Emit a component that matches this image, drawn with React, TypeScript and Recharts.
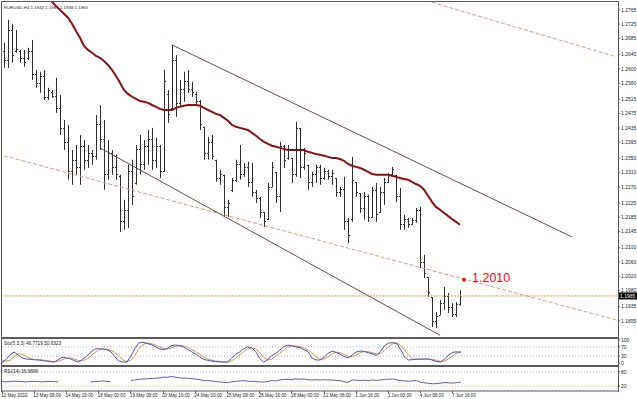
import {
  ComposedChart,
  Bar,
  Line,
  XAxis,
  YAxis,
  ReferenceLine,
  ReferenceDot,
} from "recharts";

// EURUSD H4 bars
const opens = [
  1.2650, 1.2625, 1.2710, 1.2650, 1.2650, 1.2630, 1.2630, 1.2650, 1.2585, 1.2560,
  1.2580, 1.2520, 1.2535, 1.2525, 1.2490, 1.2435, 1.2395, 1.2315, 1.2345, 1.2325,
  1.2385, 1.2345, 1.2365, 1.2355, 1.2445, 1.2405, 1.2305, 1.2365, 1.2325, 1.2300,
  1.2175, 1.2205, 1.2315, 1.2280, 1.2375, 1.2335, 1.2385, 1.2405, 1.2345, 1.2385,
  1.2315, 1.2530, 1.2490, 1.2625, 1.2505, 1.2545, 1.2565, 1.2545, 1.2530, 1.2510,
  1.2438, 1.2365, 1.2395, 1.2346, 1.2295, 1.2304, 1.2215, 1.2262, 1.2290, 1.2335,
  1.2305, 1.2325, 1.2285, 1.2255, 1.2240, 1.2200, 1.2180, 1.2270, 1.2312, 1.2245,
  1.2385, 1.2350, 1.2351, 1.2305, 1.2435, 1.2325, 1.2332, 1.2285, 1.2305, 1.2325,
  1.2295, 1.2315, 1.2300, 1.2295, 1.2255, 1.2265, 1.2175, 1.2180, 1.2284, 1.2253,
  1.2210, 1.2245, 1.2185, 1.2260, 1.2200, 1.2255, 1.2285, 1.2305, 1.2304, 1.2245,
  1.2165, 1.2180, 1.2165, 1.2178, 1.2205, 1.2060, 1.2018, 1.1962, 1.1895, 1.1912,
  1.1945, 1.1965, 1.1935, 1.1915, 1.1942,
];
const highs = [
  1.2673, 1.2737, 1.2726, 1.2709, 1.2653, 1.2653, 1.2659, 1.2681, 1.2597, 1.2592,
  1.2597, 1.2547, 1.2541, 1.2575, 1.2527, 1.2457, 1.2443, 1.2373, 1.2387, 1.2415,
  1.2401, 1.2387, 1.2373, 1.2471, 1.2499, 1.2457, 1.2401, 1.2373, 1.2360, 1.2304,
  1.2234, 1.2332, 1.2346, 1.2387, 1.2415, 1.2401, 1.2429, 1.2435, 1.2407, 1.2387,
  1.2597, 1.2541, 1.2667, 1.2639, 1.2569, 1.2592, 1.2597, 1.2564, 1.2536, 1.2513,
  1.2438, 1.2410, 1.2415, 1.2346, 1.2318, 1.2304, 1.2234, 1.2295, 1.2346, 1.2387,
  1.2337, 1.2340, 1.2337, 1.2262, 1.2242, 1.2200, 1.2281, 1.2340, 1.2312, 1.2396,
  1.2387, 1.2387, 1.2351, 1.2452, 1.2435, 1.2379, 1.2332, 1.2312, 1.2332, 1.2332,
  1.2323, 1.2318, 1.2318, 1.2295, 1.2270, 1.2298, 1.2183, 1.2354, 1.2284, 1.2253,
  1.2256, 1.2248, 1.2270, 1.2281, 1.2270, 1.2295, 1.2309, 1.2326, 1.2304, 1.2267,
  1.2192, 1.2183, 1.2183, 1.2211, 1.2214, 1.2080, 1.2018, 1.1962, 1.1920, 1.1954,
  1.1990, 1.1973, 1.1945, 1.1948, 1.1981,
];
const lows = [
  1.2603, 1.2603, 1.2617, 1.2645, 1.2617, 1.2606, 1.2625, 1.2569, 1.2547, 1.2533,
  1.2513, 1.2513, 1.2519, 1.2477, 1.2415, 1.2373, 1.2290, 1.2276, 1.2304, 1.2276,
  1.2318, 1.2323, 1.2332, 1.2346, 1.2373, 1.2262, 1.2290, 1.2304, 1.2290, 1.2144,
  1.2150, 1.2155, 1.2220, 1.2276, 1.2304, 1.2318, 1.2332, 1.2318, 1.2323, 1.2295,
  1.2312, 1.2449, 1.2485, 1.2466, 1.2494, 1.2508, 1.2533, 1.2522, 1.2502, 1.2429,
  1.2346, 1.2346, 1.2346, 1.2284, 1.2276, 1.2186, 1.2186, 1.2256, 1.2284, 1.2290,
  1.2298, 1.2270, 1.2242, 1.2225, 1.2183, 1.2158, 1.2178, 1.2270, 1.2225, 1.2200,
  1.2323, 1.2346, 1.2281, 1.2298, 1.2295, 1.2318, 1.2262, 1.2270, 1.2281, 1.2276,
  1.2290, 1.2290, 1.2276, 1.2242, 1.2242, 1.2150, 1.2113, 1.2172, 1.2242, 1.2197,
  1.2178, 1.2172, 1.2183, 1.2172, 1.2197, 1.2220, 1.2281, 1.2298, 1.2228, 1.2150,
  1.2150, 1.2155, 1.2164, 1.2170, 1.2043, 1.2015, 1.1962, 1.1878, 1.1875, 1.1912,
  1.1926, 1.1917, 1.1906, 1.1906, 1.1938,
];
const closes = [
  1.2625, 1.2710, 1.2640, 1.2655, 1.2630, 1.2620, 1.2650, 1.2585, 1.2560, 1.2580,
  1.2520, 1.2540, 1.2525, 1.2490, 1.2435, 1.2395, 1.2315, 1.2345, 1.2325, 1.2385,
  1.2345, 1.2365, 1.2355, 1.2445, 1.2405, 1.2305, 1.2365, 1.2325, 1.2305, 1.2175,
  1.2205, 1.2315, 1.2245, 1.2375, 1.2335, 1.2385, 1.2405, 1.2345, 1.2385, 1.2315,
  1.2565, 1.2475, 1.2625, 1.2505, 1.2545, 1.2565, 1.2545, 1.2535, 1.2510, 1.2445,
  1.2365, 1.2395, 1.2355, 1.2295, 1.2305, 1.2215, 1.2225, 1.2290, 1.2335, 1.2305,
  1.2325, 1.2285, 1.2255, 1.2240, 1.2200, 1.2175, 1.2270, 1.2325, 1.2245, 1.2385,
  1.2345, 1.2375, 1.2305, 1.2435, 1.2325, 1.2365, 1.2285, 1.2305, 1.2325, 1.2295,
  1.2315, 1.2300, 1.2310, 1.2255, 1.2265, 1.2175, 1.2135, 1.2290, 1.2255, 1.2210,
  1.2245, 1.2185, 1.2260, 1.2195, 1.2255, 1.2285, 1.2305, 1.2320, 1.2245, 1.2165,
  1.2180, 1.2165, 1.2178, 1.2205, 1.2060, 1.2030, 1.1975, 1.1895, 1.1910, 1.1945,
  1.1965, 1.1935, 1.1915, 1.1942, 1.1965,
];

// moving average (dark red), starts above the top of the window
const maValues = [
  1.2922, 1.2910, 1.2899, 1.2888, 1.2877, 1.2866, 1.2855, 1.2843, 1.2832, 1.2821,
  1.2810, 1.2799, 1.2787, 1.2776, 1.2765, 1.2754, 1.2743, 1.2726, 1.2706, 1.2687,
  1.2664, 1.2653, 1.2645, 1.2636, 1.2631, 1.2622, 1.2611, 1.2597, 1.2580, 1.2561,
  1.2541, 1.2530, 1.2522, 1.2516, 1.2510, 1.2508, 1.2505, 1.2499, 1.2494, 1.2488,
  1.2485, 1.2485, 1.2485, 1.2491, 1.2494, 1.2497, 1.2499, 1.2499, 1.2499, 1.2497,
  1.2491, 1.2485, 1.2480, 1.2474, 1.2471, 1.2463, 1.2455, 1.2443, 1.2438, 1.2435,
  1.2432, 1.2429, 1.2421, 1.2413, 1.2404, 1.2396, 1.2390, 1.2385, 1.2382, 1.2379,
  1.2376, 1.2373, 1.2373, 1.2373, 1.2373, 1.2373, 1.2368, 1.2365, 1.2362, 1.2360,
  1.2357, 1.2354, 1.2351, 1.2351, 1.2348, 1.2343, 1.2334, 1.2329, 1.2326, 1.2323,
  1.2318, 1.2312, 1.2306, 1.2304, 1.2304, 1.2304, 1.2304, 1.2301, 1.2298, 1.2295,
  1.2292, 1.2290, 1.2284, 1.2278, 1.2273, 1.2262, 1.2245, 1.2228, 1.2214, 1.2206,
  1.2197, 1.2189, 1.2180, 1.2172, 1.2164,
];

const stochMain = [
  2, 15, 35, 48, 35, 22, 17, 16, 14, 13,
  11, 8, 6, 4, 15, 25, 22, 18, 10, 4,
  16, 30, 45, 61, 62, 61, 58, 50, 28, 8,
  4, 4, 30, 62, 88, 90, 85, 80, 72, 62,
  58, 62, 75, 78, 76, 70, 60, 50, 40, 28,
  16, 12, 9, 6, 5, 4, 4, 20, 38, 48,
  62, 70, 66, 50, 20, 4, 15, 32, 42, 56,
  72, 78, 75, 70, 67, 58, 50, 22, 13, 13,
  25, 42, 52, 46, 38, 28, 22, 35, 48, 52,
  50, 45, 40, 33, 50, 75, 87, 88, 86, 60,
  25, 13, 15, 17, 17, 17, 17, 12, 6, 4,
  18, 35, 47, 48, 46.77,
];
const stochSignal = [
  10, 8, 12, 28, 40, 38, 28, 20, 16, 15,
  13, 11, 8, 6, 8, 14, 21, 22, 17, 11,
  10, 16, 30, 45, 56, 61, 60, 56, 46, 30,
  14, 6, 12, 32, 60, 80, 87, 85, 79, 71,
  64, 61, 65, 72, 76, 75, 69, 60, 50, 40,
  28, 19, 12, 9, 7, 5, 4, 9, 21, 35,
  50, 60, 66, 62, 46, 25, 13, 17, 30, 43,
  57, 69, 75, 74, 71, 65, 58, 43, 28, 16,
  17, 27, 40, 47, 45, 38, 29, 28, 35, 45,
  50, 49, 45, 39, 41, 53, 71, 83, 87, 78,
  57, 33, 18, 15, 16, 17, 17, 15, 12, 7,
  9, 19, 33, 43, 50.63,
];
const rsiValues = [
  40, 38, 39, 41, 40, 39, 38, 39, 40, 39,
  38, 39, 40, 39, 38, null, null, null, null, null,
  null, null, 38, 39, 40, 42, 40, 38, null, null,
  null, null, 44, 46, 48, 50, 51, 52, 53, 54,
  58, 57, 60, 58, 55, 54, 53, 52, 50, 47,
  44, 43, 42, 40, 38, 36, 35, 38, 40, 42,
  43, 41, 40, 39, 38, 37, 40, 43, 42, 46,
  48, 49, 47, 51, 49, 50, 47, 46, 47, 46,
  47, 46, 46, 44, 43, 38, 36, 46, 45, 44,
  45, 43, 46, 44, 46, 48, 49, 50, 47, 43,
  42, 41, 42, 43, 36, 34, 32, 30, 31, 33,
  35, 34, 33, 35, 36.69,
];

const timeLabels = [
  "12 May 2010", "13 May 08:00", "14 May 16:00", "18 May 00:00", "19 May 08:00",
  "20 May 16:00", "24 May 00:00", "25 May 08:00", "26 May 16:00", "28 May 00:00",
  "31 May 08:00", "1 Jun 16:00", "3 Jun 00:00", "4 Jun 08:00", "7 Jun 16:00",
];
const priceTicks = [
  1.2765, 1.2725, 1.2685, 1.264, 1.26, 1.256, 1.2515, 1.2475, 1.2435, 1.2395, 1.235,
  1.231, 1.227, 1.2225, 1.2185, 1.2145, 1.21, 1.206, 1.202, 1.198, 1.1935, 1.1895,
];
const stochTicks = [0, 30, 70, 100];
const rsiTicks = [20, 80];

const lastPrice = 1.1965;
const markPrice = 1.201;
const markBar = 115;

// 115 bars + the empty shift area on the right
const SLOTS = 154;

const rows = Array.from({ length: SLOTS }, (_, i) => ({
  i,
  o: opens[i] ?? null,
  h: highs[i] ?? null,
  l: lows[i] ?? null,
  c: closes[i] ?? null,
  ma: maValues[i] ?? null,
  k: stochMain[i] ?? null,
  d: stochSignal[i] ?? null,
  rsi: rsiValues[i] ?? null,
}));

const FONT = "'Liberation Sans', Arial, sans-serif";
const INK = "#262626";
const FRAME = "#5a5a5a";

function OhlcBar(props: any) {
  const { x, y, width, height, payload } = props;
  if (payload == null || payload.h == null) return null;
  const top = Math.min(y, y + height);
  const h = Math.abs(height);
  const cx = Math.floor(x + width / 2) + 0.5;
  const span = payload.h - payload.l || 1;
  const yo = Math.round(top + (h * (payload.h - payload.o)) / span) + 0.5;
  const yc = Math.round(top + (h * (payload.h - payload.c)) / span) + 0.5;
  return (
    <g stroke="#2e2e2e" strokeWidth={1}>
      <line x1={cx} x2={cx} y1={top} y2={top + Math.max(h, 1)} />
      <line x1={cx - 1.5} x2={cx} y1={yo} y2={yo} />
      <line x1={cx} x2={cx + 1.5} y1={yc} y2={yc} />
    </g>
  );
}

function PriceTick(props: any) {
  const { x, y, payload } = props;
  return (
    <text x={x} y={y + 1.8} fontSize={5} fill={INK} fontFamily={FONT}>
      {Number(payload.value).toFixed(4)}
    </text>
  );
}

function LevelTick(props: any) {
  const { x, y, payload } = props;
  return (
    <text x={x} y={y + 1.8} fontSize={5} fill={INK} fontFamily={FONT}>
      {payload.value}
    </text>
  );
}

function TimeTick(props: any) {
  const { x, y, payload } = props;
  const label = timeLabels[payload.value / 8];
  if (!label) return null;
  const lx = Math.floor(x) + 0.5;
  return (
    <g>
      <line x1={lx} x2={lx} y1={y - 3} y2={y - 1} stroke={FRAME} />
      <text x={x - 1} y={y + 2.6} fontSize={4.6} fill={INK} fontFamily={FONT}>
        {label}
      </text>
    </g>
  );
}

function PriceTag(props: any) {
  const vb = props.viewBox;
  if (!vb) return null;
  const x = vb.x + vb.width;
  const y = vb.y;
  return (
    <g>
      <rect x={x + 1} y={y - 3.5} width={18} height={7} fill="#000" />
      <text x={x + 2} y={y + 1.8} fontSize={5} fill="#fff" fontFamily={FONT}>
        {lastPrice.toFixed(4)}
      </text>
    </g>
  );
}

function MarkLabel(props: any) {
  const vb = props.viewBox;
  if (!vb) return null;
  return (
    <text
      x={vb.x + vb.width + 6}
      y={vb.y + vb.height / 2 + 2}
      fontSize={12.5}
      fill="#ff0000"
      fontFamily={FONT}
    >
      {markPrice.toFixed(4)}
    </text>
  );
}

const line = (style: any) => ({ position: "absolute" as const, background: FRAME, ...style });

export default function App() {
  return (
    <div
      style={{
        position: "fixed",
        left: 0,
        top: 0,
        width: 637,
        height: 399,
        background: "#fff",
        overflow: "hidden",
        fontFamily: FONT,
      }}
    >
      {/* price window */}
      <div style={{ position: "absolute", left: 0, top: 0 }}>
        <ComposedChart
          width={637}
          height={338}
          data={rows}
          margin={{ top: 2, right: 0, bottom: 2, left: 2 }}
          barCategoryGap={0}
        >
          <XAxis dataKey="i" hide />
          <YAxis
            orientation="right"
            width={19}
            domain={[1.1853, 1.2787]}
            allowDataOverflow
            ticks={priceTicks}
            interval={0}
            tick={<PriceTick />}
            tickSize={2}
            tickMargin={1}
            axisLine={false}
            tickLine={{ stroke: FRAME }}
          />
          <ReferenceLine
            segment={[{ x: 0, y: 1.2357 }, { x: 153, y: 1.1898 }]}
            stroke="#dd9a80"
            strokeDasharray="4 2"
          />
          <ReferenceLine
            segment={[{ x: 107, y: 1.2786 }, { x: 153, y: 1.2634 }]}
            stroke="#dd9a80"
            strokeDasharray="4 2"
          />
          <ReferenceLine
            y={lastPrice}
            stroke="#e3a02c"
            strokeDasharray="2 1"
            label={<PriceTag />}
          />
          <ReferenceLine
            segment={[{ x: 42, y: 1.2667 }, { x: 142, y: 1.213 }]}
            stroke="#6e4a4a"
          />
          <ReferenceLine
            segment={[{ x: 24, y: 1.2379 }, { x: 109, y: 1.1855 }]}
            stroke="#6e4a4a"
          />
          <Bar
            dataKey={(r: any) => (r.h == null ? null : [r.l, r.h])}
            shape={(p: any) => <OhlcBar {...p} />}
            isAnimationActive={false}
          />
          <Line
            dataKey="ma"
            stroke="#8b1111"
            strokeWidth={2}
            dot={false}
            activeDot={false}
            isAnimationActive={false}
          />
          <ReferenceDot
            x={markBar}
            y={markPrice}
            r={2}
            fill="#ff1010"
            stroke="none"
            label={<MarkLabel />}
          />
        </ComposedChart>
      </div>

      {/* stochastic window */}
      <div style={{ position: "absolute", left: 0, top: 336 }}>
        <ComposedChart
          width={637}
          height={29}
          data={rows}
          margin={{ top: 4, right: 0, bottom: 2, left: 2 }}
        >
          <XAxis dataKey="i" hide />
          <YAxis
            orientation="right"
            width={19}
            domain={[0, 100]}
            ticks={stochTicks}
            interval={0}
            tick={<LevelTick />}
            tickSize={2}
            tickMargin={1}
            axisLine={false}
            tickLine={{ stroke: FRAME }}
          />
          <ReferenceLine y={70} stroke="#a3bccb" strokeDasharray="1 2" />
          <ReferenceLine y={30} stroke="#a3bccb" strokeDasharray="1 2" />
          <Line
            dataKey="d"
            stroke="#e8903a"
            strokeWidth={1}
            dot={false}
            activeDot={false}
            isAnimationActive={false}
          />
          <Line
            dataKey="k"
            stroke="#4252c8"
            strokeWidth={1}
            dot={false}
            activeDot={false}
            isAnimationActive={false}
          />
        </ComposedChart>
      </div>

      {/* RSI window + time axis */}
      <div style={{ position: "absolute", left: 0, top: 367 }}>
        <ComposedChart
          width={637}
          height={32}
          data={rows}
          margin={{ top: 0, right: 0, bottom: 0, left: 2 }}
        >
          <XAxis
            dataKey="i"
            height={8}
            interval={7}
            tick={<TimeTick />}
            tickSize={2}
            tickMargin={1}
            tickLine={false}
            axisLine={{ stroke: FRAME }}
          />
          <YAxis
            orientation="right"
            width={19}
            domain={[0, 100]}
            ticks={rsiTicks}
            interval={0}
            tick={<LevelTick />}
            tickSize={2}
            tickMargin={1}
            axisLine={false}
            tickLine={{ stroke: FRAME }}
          />
          <ReferenceLine y={80} stroke="#a3bccb" strokeDasharray="1 2" />
          <ReferenceLine y={20} stroke="#e8c070" strokeDasharray="1 2" />
          <Line
            dataKey="rsi"
            stroke="#5a5fc0"
            strokeWidth={1}
            dot={false}
            activeDot={false}
            isAnimationActive={false}
          />
        </ComposedChart>
      </div>

      {/* window frames */}
      <div style={line({ left: 1, top: 1, width: 618, height: 1 })} />
      <div style={line({ left: 1, top: 1, width: 1, height: 391 })} />
      <div style={line({ left: 618, top: 1, width: 1, height: 391 })} />
      <div style={line({ left: 1, top: 337, width: 618, height: 2 })} />
      <div style={line({ left: 1, top: 365, width: 618, height: 2 })} />

      <div
        style={{
          position: "absolute",
          left: 4,
          top: 4.5,
          fontSize: 4.4,
          lineHeight: "5px",
          color: INK,
          whiteSpace: "nowrap",
        }}
      >
        EURUSD,H4 1.1942 1.1981 1.1938 1.1965
      </div>
      <div
        style={{
          position: "absolute",
          left: 4,
          top: 340.5,
          fontSize: 4.7,
          lineHeight: "5px",
          color: INK,
          whiteSpace: "nowrap",
        }}
      >
        Sto(5,3,3) 46.7719 50.6323
      </div>
      <div
        style={{
          position: "absolute",
          left: 4,
          top: 368.5,
          fontSize: 4.6,
          lineHeight: "5px",
          color: INK,
          whiteSpace: "nowrap",
        }}
      >
        RSI(14) 36.6898
      </div>
    </div>
  );
}
